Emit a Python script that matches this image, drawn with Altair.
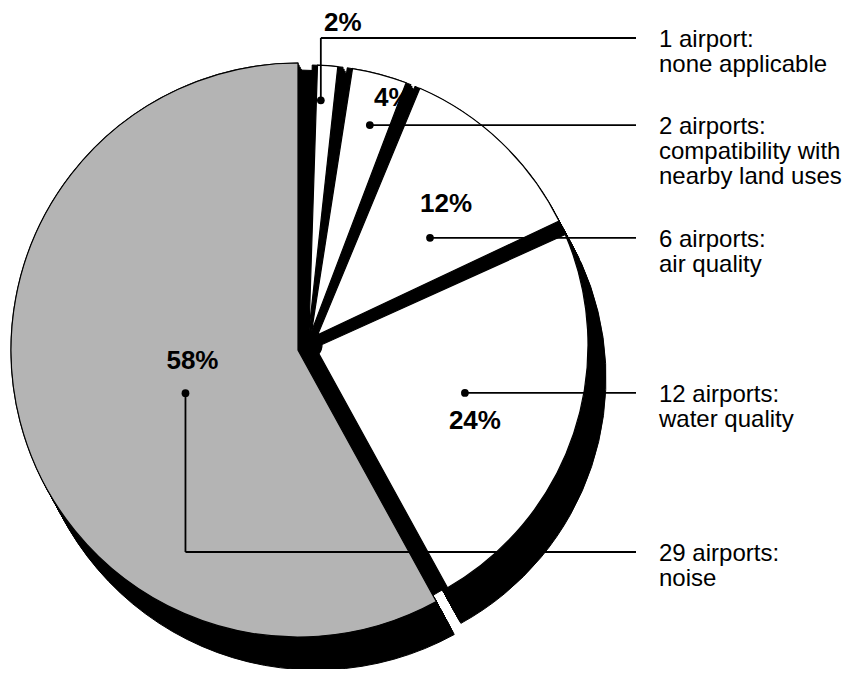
import altair as alt
import pandas as pd

# ---------------- data ----------------
topics = ["none applicable", "compatibility with\nnearby land uses", "air quality",
          "water quality", "noise"]
airports = [1, 2, 6, 12, 29]
percent_labels = ["2%", "4%", "12%", "24%", "58%"]

# ---------------- annotation layout (not data) ----------------
dot_dtheta_deg = [-0.6, 1.3, 5.5, -1.0, -6.6]     # angular nudge of the leader dot
dot_rfrac = [0.875, 0.816, 0.58, 0.586, 0.42]     # dot distance as share of radius
elbow_y = [30, None, None, None, 544]             # leader elbow row (None = at dot)
pct_dx = [22, 23, 16, 10, 7]
pct_dy = [-77, -27, -34, 28, -32]

# ---------------- geometry / style ----------------
OFF = 8
GX, GY, GR = 298 - OFF, 350 - OFF, 287   # big (grey) slice centre / radius
WX, WY, WR = 308 - OFF, 345 - OFF, 280   # other slices centre / radius
PAD = 0.038
ROT = 0.015
INNER = 14
SDX, SDY = 18, 33                        # 3-D shadow depth
NSTEP = 16
RIGHT_END = 636 - OFF
TEXT_X = 659 - OFF
FONT = "Liberation Sans"

right_labels = [f"{n} airport{'s' if n > 1 else ''}:\n{t}" for n, t in zip(airports, topics)]

df = pd.DataFrame({
    "order": list(range(len(airports))),
    "airports": airports,
    "pct_label": percent_labels,
    "rlabel": right_labels,
    "dth": dot_dtheta_deg,
    "rf": dot_rfrac,
    "elbow": elbow_y,
    "pdx": pct_dx,
    "pdy": pct_dy,
})

base = (
    alt.Chart(df)
    .transform_joinaggregate(total="sum(airports)", maxv="max(airports)")
    .transform_window(cum="sum(airports)", sort=[alt.SortField("order")], frame=[None, 0])
    .transform_calculate(t0="(datum.cum - datum.airports) / datum.total * 2 * PI")
    .transform_calculate(t1="datum.cum / datum.total * 2 * PI")
    .transform_calculate(mid="(datum.t0 + datum.t1) / 2")
    .transform_calculate(big="datum.airports == datum.maxv")
)

theta_enc = dict(theta=alt.Theta("t0:Q", scale=None), theta2=alt.Theta2("t1"))
big = base.transform_filter("datum.big")
small = base.transform_filter("!datum.big")

layers = []
# black backing of the small slices seen from the big slice's centre (fills the gap)
layers.append(
    small.mark_arc(x=GX, y=GY, radius=WR, fill="black", stroke="black", strokeWidth=1)
    .encode(**theta_enc)
)
# shadows (extruded black copies)
for k in range(NSTEP + 1):
    f = k / NSTEP
    layers.append(
        big.mark_arc(x=GX + f * SDX, y=GY + f * SDY, radius=GR, fill="black",
                     stroke="black", strokeWidth=1)
        .encode(**theta_enc)
    )
    layers.append(
        small.mark_arc(x=WX + f * SDX, y=WY + f * SDY, radius=WR, thetaOffset=ROT,
                       fill="black", stroke="black", strokeWidth=1)
        .encode(**theta_enc)
    )

# faces
layers.append(
    big.mark_arc(x=GX, y=GY, radius=GR, fill="#b4b4b4", stroke="black", strokeWidth=1.2)
    .encode(**theta_enc)
)
layers.append(
    small.mark_arc(x=WX, y=WY, radius=WR, radius2=INNER, thetaOffset=ROT, padAngle=PAD,
                   fill="white", stroke="black", strokeWidth=1.2)
    .encode(**theta_enc)
)

ann = (
    base
    .transform_calculate(cx=f"datum.big ? {GX} : {WX}")
    .transform_calculate(cy=f"datum.big ? {GY} : {WY}")
    .transform_calculate(R=f"datum.big ? {GR} : {WR}")
    .transform_calculate(ang="datum.mid + datum.dth * PI / 180")
    .transform_calculate(dotx="datum.cx + datum.rf * datum.R * sin(datum.ang)")
    .transform_calculate(doty="datum.cy - datum.rf * datum.R * cos(datum.ang)")
    .transform_calculate(rowy="isValid(datum.elbow) ? datum.elbow : datum.doty")
    .transform_calculate(laby="datum.rowy + 9")
    .transform_calculate(tx="datum.dotx + datum.pdx")
    .transform_calculate(ty="datum.doty + datum.pdy")
)

X = lambda f: alt.X(f, type="quantitative", scale=None, axis=None)
Y = lambda f: alt.Y(f, type="quantitative", scale=None, axis=None)

layers.append(
    ann.mark_rule(color="black", strokeWidth=1.8)
    .encode(x=X("dotx"), y=Y("doty"), y2=alt.Y2("rowy"))
)
layers.append(
    ann.mark_rule(color="black", strokeWidth=1.8)
    .encode(x=X("dotx"), x2=alt.value(RIGHT_END), y=Y("rowy"))
)
layers.append(
    ann.mark_circle(size=60, color="black", opacity=1)
    .encode(x=X("dotx"), y=Y("doty"))
)
layers.append(
    ann.mark_text(font=FONT, fontSize=26, fontWeight="bold", align="center",
                  baseline="middle", color="black")
    .encode(x=X("tx"), y=Y("ty"), text="pct_label:N")
)
layers.append(
    ann.mark_text(font=FONT, fontSize=24, align="left", baseline="alphabetic",
                  lineBreak="\n", lineHeight=25, color="black")
    .encode(x=alt.value(TEXT_X), y=Y("laby"), text="rlabel:N")
)

chart = (
    alt.layer(*layers)
    .properties(width=839, height=661, padding=0,
                autosize=alt.AutoSizeParams(type="none"), background="white")
    .configure_view(stroke=None)
)

chart.save("out.html", embed_options={"renderer": "svg", "actions": False})
